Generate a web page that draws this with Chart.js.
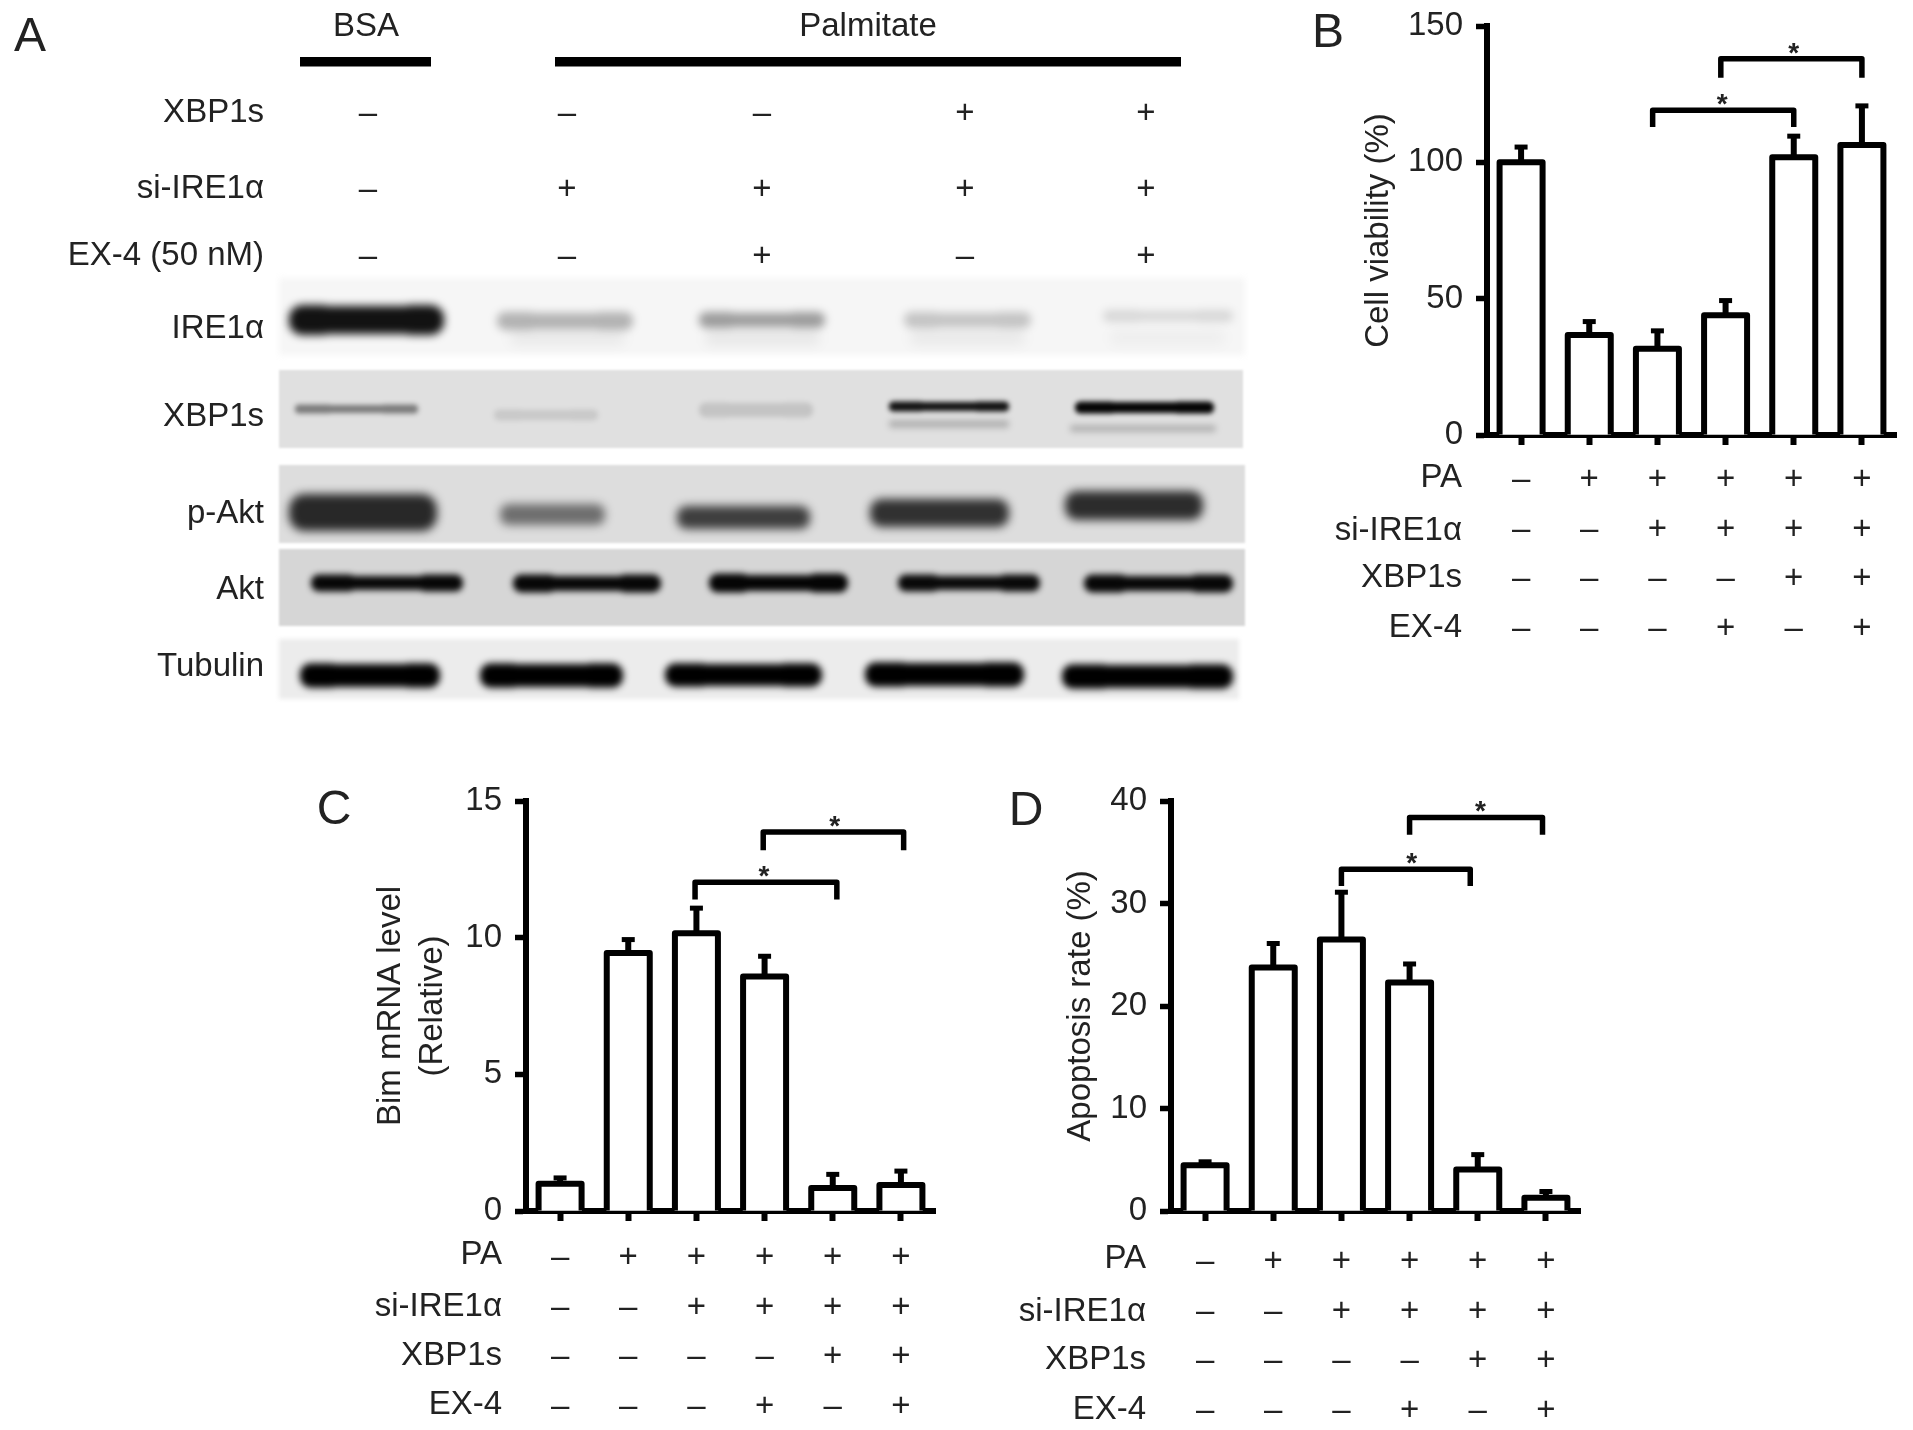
<!DOCTYPE html>
<html><head><meta charset="utf-8">
<script src="https://cdn.jsdelivr.net/npm/chart.js@4/dist/chart.umd.min.js"></script>
<style>
html,body{margin:0;padding:0;background:#fff;width:1913px;height:1430px;overflow:hidden}
canvas{position:absolute;display:block;filter:blur(0.5px)}
</style></head><body>
<canvas id="panelA" width="1270" height="720" style="left:0;top:0"></canvas>
<canvas id="panelB" width="613" height="660" style="left:1300px;top:0"></canvas>
<canvas id="panelC" width="660" height="660" style="left:300px;top:770px"></canvas>
<canvas id="panelD" width="620" height="660" style="left:1000px;top:770px"></canvas>
<script>
// ---- treatment rows for the bar panels ----
const rowNames = ['PA','si-IRE1α','XBP1s','EX-4'];
const rowPA   = ['–','+','+','+','+','+'];
const rowSi   = ['–','–','+','+','+','+'];
const rowXBP  = ['–','–','–','–','+','+'];
const rowEX4  = ['–','–','–','+','–','+'];
// ---- panel B: cell viability ----
const viabilityMean = [100,36.7,31.6,43.9,101.9,106.4];
const viabilityErr  = [5.6,4.9,6.6,5.4,7.7,14.3];
const viabilityTicks = [0,50,100,150];
const bracketsB = [[1.93,4,119.1,113],[2.93,5,138,131]];
const starsB = [2.95,4.0];
// ---- panel C: Bim mRNA ----
const bimMean = [1.0,9.44,10.16,8.58,0.84,0.95];
const bimErr  = [0.21,0.49,0.92,0.74,0.5,0.51];
const bimTicks = [0,5,10,15];
const bracketsC = [[1.98,4.06,12.03,11.4],[2.98,5.04,13.87,13.2]];
const starsC = [2.99,4.03];
// ---- panel D: apoptosis ----
const apoptosisMean = [4.46,23.75,26.5,22.3,4.05,1.3];
const apoptosisErr  = [0.34,2.35,4.6,1.8,1.45,0.6];
const apoptosisTicks = [0,10,20,30,40];
const bracketsD = [[2,3.89,33.34,31.7],[3,4.95,38.4,36.7]];
const starsD = [3.03,4.04];
// ---- panel A: treatments and band densities per lane ----
const laneXBP = ['–','–','–','+','+'];
const laneSi  = ['–','+','+','+','+'];
const laneEX4 = ['–','–','+','–','+'];
const bandIRE1a = [0.93,0.27,0.36,0.2,0.12];
const bandIRE1aLower = [0,0.05,0.06,0.05,0.03];
const bandXBP1s = [0.45,0.1,0.12,0.92,0.98];
const bandXBP1sLower = [0,0,0,0.2,0.2];
const bandPAkt = [0.82,0.5,0.72,0.78,0.8];
const bandAkt = [0.97,0.97,0.98,0.96,0.97];
const bandTubulin = [1,1,1,1,1];

const FONT = '"Liberation Sans", Arial, sans-serif';
const INK = '#222';

function text(ctx,str,x,y,size,align,base,weight){
  ctx.font = `${weight||'normal'} ${size}px ${FONT}`; ctx.fillStyle = INK;
  ctx.textAlign = align||'center'; ctx.textBaseline = base||'middle';
  ctx.fillText(str,x,y);
}

const barExtras = {
  id:'barExtras',
  afterDatasetsDraw(chart,args,o){
    const {ctx,scales:{x,y}} = chart;
    const bars = chart.getDatasetMeta(0).data;
    ctx.save();
    ctx.strokeStyle = '#000'; ctx.lineCap='butt'; ctx.lineJoin='round';
    bars.forEach((b,i)=>{
      const {x:cx,y:top,base,width} = b.getProps(['x','y','base','width'],true);
      ctx.lineWidth = 6; ctx.beginPath();
      ctx.moveTo(cx-width/2,base); ctx.lineTo(cx-width/2,top); ctx.lineTo(cx+width/2,top); ctx.lineTo(cx+width/2,base);
      ctx.stroke();
      const up = y.getPixelForValue(o.means[i]+o.errs[i]);
      ctx.beginPath(); ctx.moveTo(cx,top); ctx.lineTo(cx,up); ctx.stroke();
      ctx.lineWidth = 5; ctx.beginPath(); ctx.moveTo(cx-6.5,up); ctx.lineTo(cx+6.5,up); ctx.stroke();
    });
    ctx.lineWidth = 5.5;
    o.brackets.forEach(b=>{
      const l = x.getPixelForValue(b[0]), r = x.getPixelForValue(b[1]);
      const t = y.getPixelForValue(b[2]), e = y.getPixelForValue(b[3]);
      ctx.beginPath(); ctx.moveTo(l,e); ctx.lineTo(l,t); ctx.lineTo(r,t); ctx.lineTo(r,e); ctx.stroke();
    });
    o.stars.forEach((s,i)=>{
      text(ctx,'*',x.getPixelForValue(s),y.getPixelForValue(o.brackets[i][2])+3,28,'center','alphabetic','bold');
    });
    rowNames.forEach((n,i)=> text(ctx,n,o.rowRight,o.rowY[i],33,'right'));
    text(ctx,o.letter[0],o.letter[1],o.letter[2],48);
    ctx.restore();
  }
};

function barPanel(id,means,errs,ticksList,brackets,stars,c){
  const labels = rowPA.map((_,i)=>[rowPA[i],rowSi[i],rowXBP[i],rowEX4[i]]);
  new Chart(document.getElementById(id),{
    type:'bar',
    data:{labels,datasets:[{data:means,backgroundColor:'#fff',borderColor:'#000',
      borderWidth:0,barThickness:43}]},
    plugins:[barExtras],
    options:{
      responsive:false,animation:false,
      layout:{padding:{left:0,top:c.top,right:c.right,bottom:0}},
      plugins:{legend:{display:false},tooltip:{enabled:false},
        barExtras:{means,errs,brackets,stars,rowRight:c.rowRight,rowY:c.rowY,letter:c.letter}},
      scales:{
        x:{type:'category',offset:true,z:1,
          grid:{offset:false,drawOnChartArea:false,drawTicks:true,tickLength:10,tickWidth:6,tickColor:'#000'},
          border:{display:true,width:6,color:'#000'},
          ticks:{color:INK,autoSkip:false,maxRotation:0,minRotation:0,padding:c.xPad,
            font:{family:FONT,size:33,lineHeight:1.506}},
          afterFit(s){s.height=c.xHeight;s.paddingLeft=0;s.paddingRight=0;}},
        y:{type:'linear',min:0,max:c.max,
          grid:{drawOnChartArea:false,drawTicks:true,tickLength:11,tickWidth:5.5,tickColor:'#000'},
          border:{display:true,width:6,color:'#000'},
          afterBuildTicks(s){s.ticks=ticksList.map(v=>({value:v}));},
          ticks:{color:INK,padding:13,font:{family:FONT,size:33}},
          title:{display:true,text:c.title,color:INK,padding:{top:c.titlePad,bottom:0},
            font:{family:FONT,size:33,lineHeight:c.titleLH||1.2}},
          afterFit(s){s.width=c.yWidth;s.paddingTop=0;s.paddingBottom=0;}}
      }
    }
  });
}

barPanel('panelB',viabilityMean,viabilityErr,viabilityTicks,bracketsB,starsB,{
  max:150,title:'Cell viability (%)',top:26,right:17,xHeight:225,yWidth:187,titlePad:59,xPad:10,
  rowRight:162,rowY:[478,531,578,628],letter:['B',28,34]});
barPanel('panelC',bimMean,bimErr,bimTicks,bracketsC,starsC,{
  max:15,title:['Bim mRNA level','(Relative)'],top:31,right:25,xHeight:219,yWidth:226,titlePad:69,titleLH:1.3,xPad:12,
  rowRight:202,rowY:[485,537,586,635],letter:['C',34,41]});
barPanel('panelD',apoptosisMean,apoptosisErr,apoptosisTicks,bracketsD,starsD,{
  max:40,title:'Apoptosis rate (%)',top:31,right:40,xHeight:219,yWidth:171,titlePad:61,xPad:16,
  rowRight:146,rowY:[489,542,590,640],letter:['D',26,42]});

// ---- Panel A layout table (page pixels mapped through the chart's scales) ----
const strips = [
  {y0:278,y1:355,x1:1245,bg:'#f6f6f6',edge:3,sets:[
    {v:bandIRE1aLower,blur:6,lobe:0,boxes:[[289,444,330,340],[510,625,330,345],[705,820,330,345],[910,1025,330,345],[1110,1225,330,345]]},
    {v:bandIRE1a,blur:4,lobe:2,boxes:[[289,444,306,334],[497,633,313,329],[699,825,313,327],[904,1031,313,327],[1103,1233,311,321]]}]},
  {y0:370,y1:448,x1:1243,bg:'#e0e0e0',edge:1,sets:[
    {v:bandXBP1s,blur:2.5,lobe:1,boxes:[[295,418,405,413],[494,598,410,420],[699,813,403,417],[889,1009,402,411],[1075,1214,402,413]]},
    {v:bandXBP1sLower,blur:3,lobe:0,boxes:[[295,418,420,428],[494,598,420,428],[699,813,420,428],[889,1009,420,428],[1070,1216,425,432]]}]},
  {y0:465,y1:543,x1:1245,bg:'#dddddd',edge:1,sets:[
    {v:bandPAkt,blur:5,lobe:0,boxes:[[289,437,494,531],[500,605,504,525],[677,810,506,529],[870,1009,499,527],[1065,1203,491,520]]}]},
  {y0:549,y1:626,x1:1245,bg:'#d6d6d6',edge:1,sets:[
    {v:bandAkt,blur:3,lobe:3,boxes:[[311,463,576,590],[513,661,576,591],[709,848,575,591],[898,1040,576,590],[1084,1233,576,591]]}]},
  {y0:639,y1:699,x1:1239,bg:'#ececec',edge:2,sets:[
    {v:bandTubulin,blur:3.5,lobe:1.5,boxes:[[300,440,664,687],[480,623,664,687],[665,822,664,686],[865,1024,663,686],[1062,1233,665,688]]}]}
];
const laneX = [368,567,762,965,1146];
const rowTextA = [['XBP1s',113,laneXBP],['si-IRE1α',189,laneSi],['EX-4 (50 nM)',256,laneEX4]];
const blotNames = [['IRE1α',329],['XBP1s',417],['p-Akt',514],['Akt',590],['Tubulin',667]];

const blotPlugin = {
  id:'blot',
  afterDraw(chart){
    const {ctx,scales:{x,y}} = chart;
    const X=v=>x.getPixelForValue(v), Y=v=>y.getPixelForValue(v);
    ctx.save();
    strips.forEach(s=>{
      ctx.fillStyle=s.bg; ctx.filter=`blur(${s.edge}px)`;
      ctx.fillRect(X(279),Y(s.y0),X(s.x1)-X(279),Y(s.y1)-Y(s.y0));
      s.sets.forEach(set=>{
        ctx.filter=`blur(${set.blur}px)`;
        set.boxes.forEach((b,i)=>{
          if(!set.v[i]) return;
          const w=X(b[1])-X(b[0]), h=Y(b[3])-Y(b[2]), l=X(b[0]), t=Y(b[2]);
          ctx.fillStyle=`rgba(0,0,0,${set.v[i]})`;
          ctx.beginPath();
          ctx.roundRect(l,t,w,h,h/2.4);
          if(set.lobe){
            ctx.roundRect(l,t-set.lobe/2,w*0.3,h+set.lobe,(h+set.lobe)/2.2);
            ctx.roundRect(l+w*0.7,t-set.lobe/2,w*0.3,h+set.lobe,(h+set.lobe)/2.2);
          }
          ctx.fill('nonzero');
        });
      });
    });
    ctx.filter='none';
    ctx.fillStyle='#000';
    ctx.fillRect(X(300),Y(57),X(431)-X(300),Y(66.5)-Y(57));
    ctx.fillRect(X(555),Y(57),X(1181)-X(555),Y(66.5)-Y(57));
    text(ctx,'A',X(30),Y(38),48);
    text(ctx,'BSA',X(366),Y(27),33);
    text(ctx,'Palmitate',X(868),Y(27),33);
    rowTextA.forEach(r=>{
      text(ctx,r[0],X(264),Y(r[1]),33,'right');
      r[2].forEach((m,i)=>text(ctx,m,X(laneX[i]),Y(r[1]+1),33));
    });
    blotNames.forEach(b=>text(ctx,b[0],X(264),Y(b[1]),33,'right'));
    ctx.restore();
  }
};
new Chart(document.getElementById('panelA'),{
  type:'scatter',
  data:{datasets:[{data:[]}]},
  plugins:[blotPlugin],
  options:{responsive:false,animation:false,layout:{padding:0},
    plugins:{legend:{display:false},tooltip:{enabled:false}},
    scales:{x:{type:'linear',display:false,min:0,max:1270},y:{type:'linear',display:false,min:0,max:720,reverse:true}}}
});
</script>
</body></html>
